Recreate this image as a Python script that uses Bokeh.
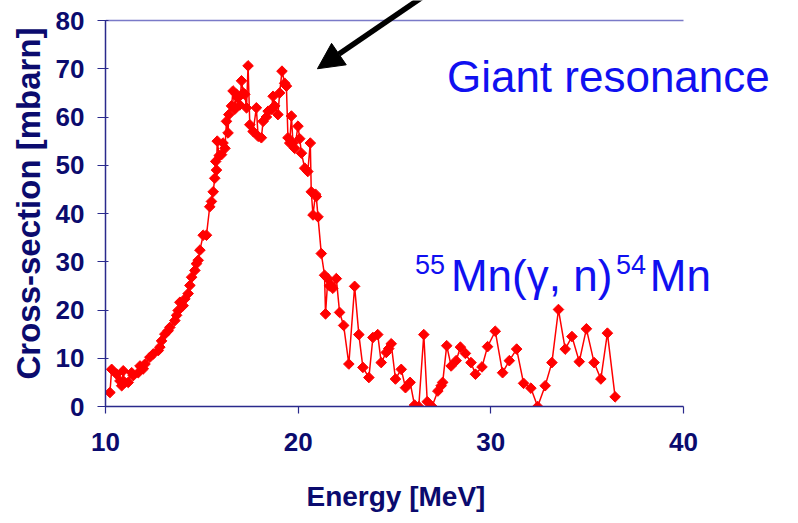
import math
from bokeh.plotting import figure
from bokeh.models import Label, Arrow, NormalHead, Range1d, FixedTicker, Title
from bokeh.embed import file_html
from bokeh.resources import INLINE

energy = [10.23, 10.32, 10.58, 10.75, 10.84, 10.92, 11.00, 11.18, 11.36, 11.44,
          11.70, 11.79, 11.96, 12.05, 12.30, 12.48, 12.74, 12.82, 12.91, 13.08,
          13.25, 13.34, 13.60, 13.69, 13.77, 13.86, 14.03, 14.12, 14.29, 14.38,
          14.47, 14.64, 14.72, 14.81, 14.90, 15.07, 15.24, 15.41, 15.50, 15.59,
          15.67, 15.72, 15.76, 15.80, 15.90, 16.02, 16.10, 16.20, 16.28, 16.36,
          16.40, 16.54, 16.62, 16.71, 16.80, 16.88, 16.97, 17.06, 17.15, 17.23,
          17.32, 17.40, 17.49, 17.66, 17.83, 17.92, 18.09, 18.18, 18.35, 18.44,
          18.61, 18.70, 18.78, 18.95, 19.04, 19.16, 19.30, 19.39, 19.47, 19.56,
          19.65, 19.73, 19.82, 19.99, 20.08, 20.17, 20.34, 20.50, 20.63, 20.68,
          20.77, 20.90, 20.94, 21.03, 21.20, 21.37, 21.42, 21.54, 21.63, 21.72,
          21.80, 21.98, 22.15, 22.36, 22.63, 22.93, 23.15, 23.36, 23.67, 23.88,
          24.13, 24.31, 24.57, 24.70, 24.83, 25.05, 25.35, 25.57, 25.81, 26.04,
          26.26, 26.52, 26.70, 26.95, 27.25, 27.42, 27.50, 27.71, 27.94, 28.20,
          28.42, 28.68, 28.97, 29.20, 29.54, 29.83, 30.23, 30.61, 30.96, 31.34,
          31.70, 32.08, 32.43, 32.82, 33.17, 33.51, 33.86, 34.21, 34.59, 34.96,
          35.36, 35.71, 36.05, 36.45]
cross_section = [2.9, 7.7, 6.7, 5.3, 4.3, 7.4, 5.0, 5.0, 7.0, 6.4,
                 7.0, 8.4, 7.8, 8.8, 10.2, 10.9, 11.6, 12.3, 13.6, 15.0,
                 15.7, 16.4, 17.8, 18.9, 19.9, 21.6, 20.9, 22.3, 23.4, 25.1,
                 26.8, 28.2, 29.6, 30.3, 32.4, 35.5, 35.5, 41.4, 42.5, 44.5,
                 47.3, 50.8, 49.0, 55.0, 52.0, 52.2, 54.6, 53.5, 59.1, 56.7,
                 60.5, 62.3, 65.4, 61.6, 64.7, 64.0, 62.5, 67.5, 65.0, 64.7,
                 61.9, 70.6, 58.4, 57.0, 61.9, 56.0, 55.7, 59.1, 60.0, 61.2,
                 61.6, 64.3, 62.3, 60.5, 65.0, 69.5, 67.0, 66.4, 55.7, 54.6,
                 60.2, 54.6, 53.5, 58.1, 55.5, 52.5, 49.4, 48.7, 54.6, 44.5,
                 39.7, 44.0, 43.5, 39.3, 31.7, 27.2, 19.2, 26.5, 25.0, 25.1,
                 24.5, 26.5, 19.5, 16.8, 8.8, 24.9, 14.9, 8.1, 6.0, 14.3,
                 14.9, 9.1, 11.2, 12.0, 13.0, 5.7, 7.7, 3.9, 5.0, 0.3,
                 0.0, 14.9, 1.0, 0.0, 3.2, 4.3, 5.0, 12.6, 8.4, 9.5,
                 12.3, 11.0, 9.1, 6.7, 8.2, 12.4, 15.6, 7.0, 9.5, 11.9,
                 4.8, 3.8, 0.0, 4.3, 9.1, 20.1, 11.9, 14.5, 9.3, 16.1,
                 9.1, 5.7, 15.2, 2.0]

x_ticks = [10, 20, 30, 40]
y_ticks = [0, 10, 20, 30, 40, 50, 60, 70, 80]

NAVY = "#0b0b6e"
FONT = "Liberation Sans"

# frame extends past the axis bounds so the annotations are not clipped
FW, FH = 684, 406
x_end = 10 + FW * 30 / 578
y_end = 80 * FH / 386

p = figure(output_backend="svg", toolbar_location=None,
           frame_width=FW, frame_height=FH,
           min_border_left=105, min_border_right=0,
           min_border_top=0, min_border_bottom=112,
           x_range=Range1d(10, x_end), y_range=Range1d(0, y_end),
           background_fill_color="white", border_fill_color="white")
p.outline_line_color = None
p.grid.visible = False

p.xaxis.ticker = FixedTicker(ticks=x_ticks)
p.yaxis.ticker = FixedTicker(ticks=y_ticks)
p.xaxis.bounds = (x_ticks[0], x_ticks[-1])
p.yaxis.bounds = (y_ticks[0], y_ticks[-1])
for ax in (p.xaxis[0], p.yaxis[0]):
    ax.axis_line_color = "#2a2a8c"
    ax.axis_line_width = 1.5
    ax.major_tick_line_color = "#2a2a8c"
    ax.major_tick_line_width = 1.2
    ax.minor_tick_line_color = None
    ax.major_label_text_color = NAVY
    ax.major_label_text_font = FONT
    ax.major_label_text_font_style = "bold"
    ax.major_label_text_font_size = "26px"
    ax.axis_label_text_color = NAVY
    ax.axis_label_text_font = FONT
    ax.axis_label_text_font_style = "bold"

p.yaxis.axis_label = "Cross-section [mbarn]"
p.yaxis.axis_label_text_font_size = "33px"
p.xaxis.major_tick_out = 7
p.xaxis.major_tick_in = 0
p.yaxis.major_tick_out = 8
p.yaxis.major_tick_in = 3
p.xaxis.major_label_standoff = 19
p.yaxis.major_label_standoff = 13
p.yaxis.axis_label_standoff = 6

# x-axis title centred under the 10..40 span
p.add_layout(Title(text="Energy [MeV]", align="left", offset=201, text_font=FONT,
                   text_font_size="28px", text_font_style="bold", text_color=NAVY,
                   standoff=50), "below")

# top border of the plot area
p.line([x_ticks[0], x_ticks[-1]], [y_ticks[-1], y_ticks[-1]],
       line_color="#7a7ac8", line_width=1.5)

p.line(energy, cross_section, line_color="red", line_width=1.5)
p.scatter(energy, cross_section, marker="square", angle=math.pi / 4, size=7.5,
          fill_color="red", line_color="red")

blue = "#1010f0"
def lab(x, y, t, size):
    p.add_layout(Label(x=x, y=y, text=t, text_font=FONT, text_font_size=size,
                       text_color=blue, text_baseline="alphabetic"))

lab(27.72, 68.4, "Giant resonance", "44px")
lab(26.06, 29.4, "55", "27px")
lab(27.93, 27.1, "Mn(γ, n)", "44px")
lab(36.50, 29.4, "54", "27px")
lab(38.25, 27.1, "Mn", "44px")

p.add_layout(Arrow(end=NormalHead(size=26, fill_color="black", line_color="black"),
                   x_start=26.5, y_start=85.0, x_end=21.0, y_end=70.0,
                   line_color="black", line_width=5.5))

open("out.html", "w").write(file_html(p, INLINE))
